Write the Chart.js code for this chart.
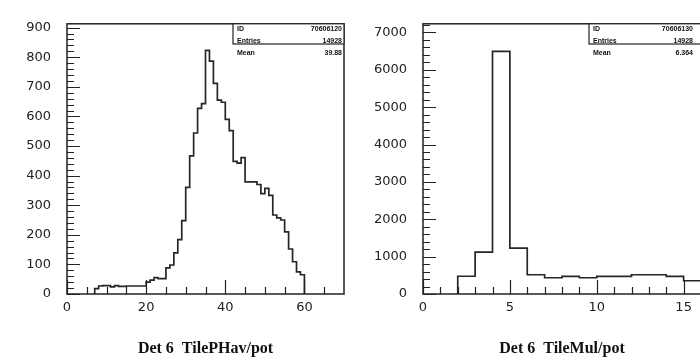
<!DOCTYPE html>
<html>
<head>
<meta charset="utf-8">
<script src="https://cdn.jsdelivr.net/npm/chart.js@4.4.1/dist/chart.umd.min.js"></script>
<style>
  html, body { margin: 0; padding: 0; background: #fff; overflow: hidden; width: 700px; height: 358px; }
  canvas { position: absolute; top: 0; }
  #chartLeft { left: 0; }
  #chartRight { left: 350px; }
</style>
</head>
<body>
<canvas id="chartLeft" width="350" height="358"></canvas>
<canvas id="chartRight" width="360" height="358"></canvas>
<script>
// === DATA ===
// left histogram: 1-unit bins starting at leftStart
const leftStart = 7;
const leftCounts = [18, 27, 28, 28, 24, 28, 26, 26, 27, 27, 27, 27, 27,
  40, 47, 55, 52, 52, 88, 98, 139, 184, 248, 360, 467, 544, 627, 643,
  823, 787, 712, 655, 648, 590, 552, 448, 442, 461, 379, 379, 379, 370,
  339, 357, 333, 267, 257, 250, 210, 152, 109, 75, 65];
const leftXTicks = [0, 20, 40, 60];
const leftYTicks = [0, 100, 200, 300, 400, 500, 600, 700, 800, 900];
const leftTitle = 'Det 6  TilePHav/pot';
const leftStats = [['ID', '70606120'], ['Entries', '14928'], ['Mean', '39.88']];

// right histogram: 1-unit bins starting at rightStart
const rightStart = 2;
const rightCounts = [475, 1120, 6490, 1225, 515, 435, 470, 435, 470, 470, 515, 515, 470, 355];
const rightXTicks = [0, 5, 10, 15];
const rightYTicks = [0, 1000, 2000, 3000, 4000, 5000, 6000, 7000];
const rightTitle = 'Det 6  TileMul/pot';
const rightStats = [['ID', '70606130'], ['Entries', '14928'], ['Mean', '6.364']];

// build outline points for a stepped histogram
function histPoints(start, counts, closeEnd) {
  const pts = [{ x: start, y: 0 }];
  counts.forEach((c, i) => pts.push({ x: start + i, y: c }));
  const end = start + counts.length;
  pts.push({ x: end, y: counts[counts.length - 1] });
  if (closeEnd) pts.push({ x: end, y: 0 });
  return pts;
}

// frame, inward ticks and stats box, PAW style
const pawPlugin = {
  id: 'paw',
  afterDatasetsDraw(chart, args, o) {
    const { ctx, chartArea: a, scales: { x, y } } = chart;
    ctx.save();
    ctx.strokeStyle = '#222';
    ctx.lineWidth = 1.2;
    ctx.beginPath();
    const near = (v, step) => Math.abs(v / step - Math.round(v / step)) < 1e-6;
    for (let v = x.min; v < x.max - 1e-6; v += o.xMinor) {
      const px = Math.round(x.getPixelForValue(v)) + 0.5;
      const len = near(v, o.xMajor) ? 14 : 7;
      ctx.moveTo(px, a.bottom); ctx.lineTo(px, a.bottom - len);
    }
    for (let v = y.min; v < y.max - 1e-6; v += o.yMinor) {
      const py = Math.round(y.getPixelForValue(v)) + 0.5;
      const len = near(v, o.yMajor) ? 13 : 7;
      ctx.moveTo(a.left, py); ctx.lineTo(a.left + len, py);
    }
    ctx.stroke();

    ctx.lineWidth = 1.5;
    ctx.strokeRect(a.left, a.top, a.right - a.left, a.bottom - a.top);

    // stats box
    const bx = o.boxLeft, by = a.top, bw = a.right - o.boxLeft, bh = o.boxBottom - a.top;
    ctx.fillStyle = '#fff';
    ctx.fillRect(bx, by, bw, bh);
    ctx.lineWidth = 1.2;
    ctx.strokeRect(bx, by, bw, bh);
    ctx.fillStyle = '#111';
    ctx.font = 'bold 7px "Liberation Sans"';
    ctx.textBaseline = 'middle';
    o.stats.forEach((row, i) => {
      const ty = by + 5 + i * 12;
      ctx.textAlign = 'left';
      ctx.fillText(row[0], bx + 4, ty);
      ctx.textAlign = 'right';
      ctx.fillText(row[1], o.valueRight, ty);
    });
    ctx.restore();
  }
};

function makeHist(id, cfg) {
  const ctx = document.getElementById(id).getContext('2d');
  return new Chart(ctx, {
    type: 'line',
    data: {
      datasets: [{
        data: histPoints(cfg.start, cfg.counts, cfg.closeEnd),
        stepped: 'before',
        borderColor: '#262626',
        borderWidth: 1.7,
        pointRadius: 0,
        fill: false
      }]
    },
    options: {
      responsive: false,
      animation: false,
      layout: { padding: { top: 9, right: cfg.padRight, left: 0, bottom: 0 } },
      plugins: {
        legend: { display: false },
        tooltip: { enabled: false },
        paw: cfg.paw
      },
      scales: {
        x: {
          type: 'linear',
          min: cfg.xMin, max: cfg.xMax,
          afterBuildTicks: s => { s.ticks = cfg.xTicks.map(v => ({ value: v })); },
          afterFit: s => { s.height = 64; },
          grid: { display: false, drawTicks: false },
          border: { display: false },
          ticks: {
            color: '#222', padding: 6, maxRotation: 0,
            font: { family: 'DejaVu Sans', size: 13 },
            callback: v => String(v)
          },
          title: {
            display: true, text: cfg.title, color: '#111',
            font: { family: 'Liberation Serif', size: 16, weight: 'bold' },
            padding: { top: 0, bottom: 0 }
          }
        },
        y: {
          type: 'linear',
          min: 0, max: cfg.yMax,
          afterBuildTicks: s => { s.ticks = cfg.yTicks.map(v => ({ value: v })); },
          afterFit: s => { s.width = cfg.yWidth; },
          grid: { display: false, drawTicks: false },
          border: { display: false },
          ticks: {
            color: '#222', padding: 16,
            font: { family: 'DejaVu Sans', size: 13 },
            callback: v => String(v)
          }
        }
      }
    },
    plugins: [pawPlugin]
  });
}

makeHist('chartLeft', {
  start: leftStart, counts: leftCounts, closeEnd: true,
  xMin: 0, xMax: 70, yMax: 913, xTicks: leftXTicks, yTicks: leftYTicks,
  title: leftTitle, yWidth: 67, padRight: 6,
  paw: { xMinor: 5, xMajor: 20, yMinor: 20, yMajor: 100, boxLeft: 233, boxBottom: 44, valueRight: 342, stats: leftStats }
});

makeHist('chartRight', {
  start: rightStart, counts: rightCounts, closeEnd: false,
  xMin: 0, xMax: 16, yMax: 7230, xTicks: rightXTicks, yTicks: rightYTicks,
  title: rightTitle, yWidth: 73, padRight: 9,
  paw: { xMinor: 1, xMajor: 5, yMinor: 200, yMajor: 1000, boxLeft: 239, boxBottom: 44, valueRight: 343, stats: rightStats }
});
</script>
</body>
</html>
